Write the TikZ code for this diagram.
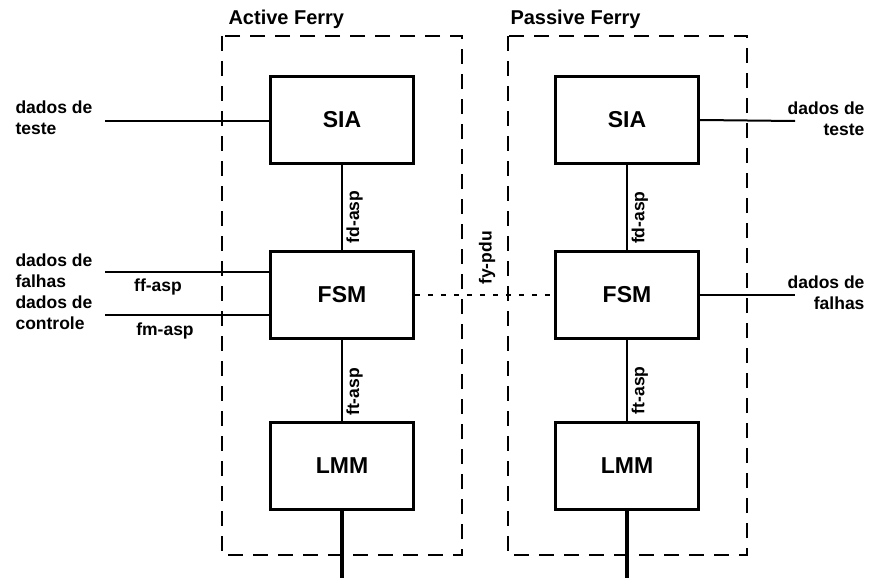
\documentclass[tikz,border=0pt]{standalone}
\usepackage{fontspec}
\setmainfont{Liberation Sans}
\usepackage{tikz}

\tikzset{
  blk/.style={draw,line width=2.6pt,minimum width=143pt,minimum height=87pt,font=\fontsize{23}{26}\selectfont\bfseries},
  lbl/.style={font=\fontsize{17.5}{21}\selectfont\bfseries},
  ttl/.style={font=\fontsize{20}{24}\selectfont\bfseries},
  frame/.style={line width=2.6pt,dash pattern=on 15pt off 10pt},
}

\begin{document}
\begin{tikzpicture}[x=1pt,y=-1pt]
\useasboundingbox (0,0) rectangle (878,578);
% ferry frames
\draw[frame] (222,36) rectangle (462,555);
\draw[frame] (508,36) rectangle (747,555);
\node[ttl,anchor=west] (tact) at (225,19) {Active Ferry};
\node[ttl,anchor=west] (tpas) at (507,19) {Passive Ferry};
% blocks
\node[blk,fill=white] (asia) at (342,120) {SIA};
\node[blk,fill=white] (afsm) at (342,295) {FSM};
\node[blk,fill=white] (almm) at (342,466) {LMM};
\node[blk,fill=white] (psia) at (627,120) {SIA};
\node[blk,fill=white] (pfsm) at (627,295) {FSM};
\node[blk,fill=white] (plmm) at (627,466) {LMM};
% free ends
\coordinate (ain1) at (105,121);
\coordinate (ain2) at (105,272);
\coordinate (ain3) at (105,315);
\coordinate (pout1) at (795,121);
\coordinate (pout2) at (795,295);
\coordinate (abot) at (342,578);
\coordinate (pbot) at (627,578);
% connectors
\draw[line width=2pt] (ain1) -- (ain1 -| asia.west);
\draw[line width=2pt] (ain2) -- (ain2 -| afsm.west);
\draw[line width=2pt] (ain3) -- (ain3 -| afsm.west);
\draw[line width=2pt] (psia.east) -- (pout1);
\draw[line width=1.6pt] (pfsm.east) -- (pout2);
\draw[line width=2pt] (asia.south) -- (afsm.north) node[pos=0.61,rotate=90,anchor=north,lbl] {fd-asp};
\draw[line width=2.2pt] (afsm.south) -- (almm.north) node[pos=0.64,rotate=90,anchor=north,lbl] {ft-asp};
\draw[line width=2.6pt] (psia.south) -- (pfsm.north) node[pos=0.62,rotate=90,anchor=north,lbl] {fd-asp};
\draw[line width=2.6pt] (pfsm.south) -- (plmm.north) node[pos=0.62,rotate=90,anchor=north,lbl] {ft-asp};
\draw[line width=4pt] (almm.south) -- (abot);
\draw[line width=4pt] (plmm.south) -- (pbot);
\draw[line width=2.2pt,dash pattern=on 5pt off 8pt] (afsm.east) -- (pfsm.west);
% labels
\node[lbl,rotate=90] (fypdu) at (487,258) {fy-pdu};
\node[lbl] (ffasp) at (158,287) {ff-asp};
\node[lbl] (fmasp) at (165,331) {fm-asp};
\node[lbl,align=left,anchor=west] (ateste) at (12,118) {dados de\\teste};
\node[lbl,align=left,anchor=west] (afalhas) at (12,271) {dados de\\falhas};
\node[lbl,align=left,anchor=west] (acontr) at (12,313) {dados de\\controle};
\node[lbl,align=right,anchor=east] (pteste) at (868,119) {dados de\\teste};
\node[lbl,align=right,anchor=east] (pfalhas) at (868,293) {dados de\\falhas};
\end{tikzpicture}
\end{document}
